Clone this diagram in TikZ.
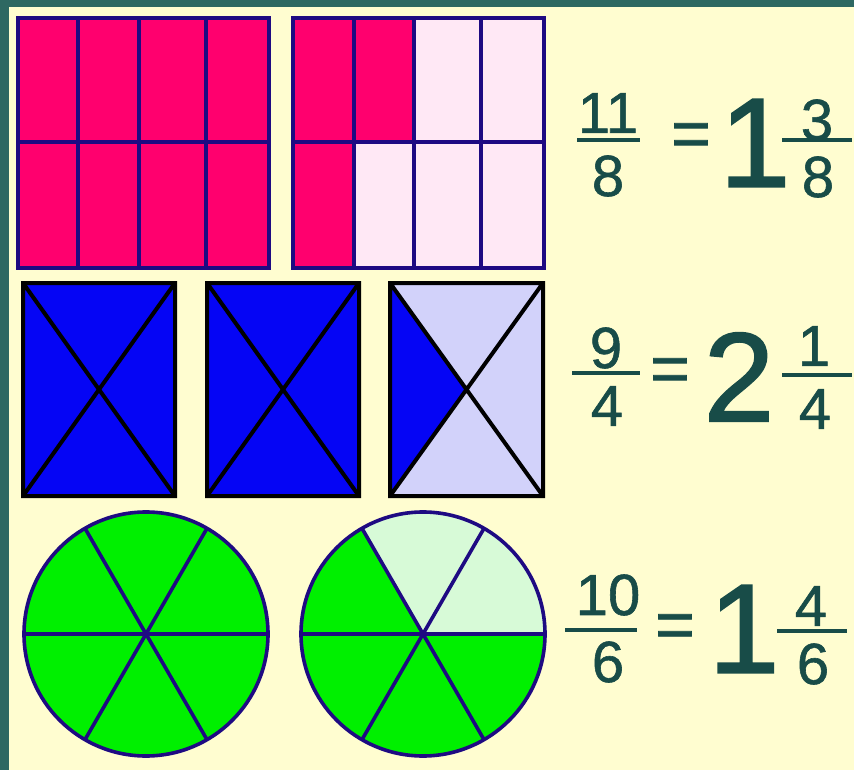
\documentclass[tikz,border=0pt]{standalone}
\usepackage{fontspec}
\setmainfont{Liberation Sans}
\newfontfamily\digitfont{Liberation Sans}[FakeBold=1]
\newfontfamily\wholefont{Liberation Sans}[FakeBold=1.4]
\definecolor{BoardTeal}{RGB}{46,104,98}
\definecolor{Paper}{RGB}{255,253,208}
\definecolor{FracText}{RGB}{24,76,72}
\definecolor{Rose}{RGB}{255,0,110}
\definecolor{RoseLight}{RGB}{255,232,245}
\definecolor{NavyEdge}{RGB}{30,10,130}
\definecolor{Ink}{RGB}{5,5,245}
\definecolor{InkLight}{RGB}{210,210,250}
\definecolor{Leaf}{RGB}{0,240,0}
\definecolor{LeafLight}{RGB}{215,250,215}

\begin{document}
\begin{tikzpicture}[x=1pt, y=-1pt]
        \tikzstyle{grid} = [draw=NavyEdge, line width=3.6pt]
        \tikzstyle{cross} = [draw=black, line width=4pt]
        \tikzstyle{spoke} = [draw=NavyEdge, line width=3.6pt]
        \tikzstyle{digit} = [text=FracText, inner sep=0pt, font=\digitfont\fontsize{58}{58}\selectfont]
        \tikzstyle{equals} = [text=FracText, inner sep=0pt, font=\digitfont\fontsize{68}{68}\selectfont]
        \tikzstyle{whole} = [text=FracText, inner sep=0pt, font=\wholefont\fontsize{127}{127}\selectfont]
        \tikzstyle{bar} = [draw=FracText, line width=4.5pt]

        \useasboundingbox (0,0) rectangle (854,770);
        \fill[Paper] (0,0) rectangle (854,770);
        \fill[BoardTeal] (0,0) rectangle (854,7);
        \fill[BoardTeal] (0,0) rectangle (9,770);

        % eleven eighths
        \fill[Rose] (18,18) rectangle (269,268);
        \fill[RoseLight] (293,18) rectangle (544,268);
        \fill[Rose] (293,18) rectangle (414,142);
        \fill[Rose] (293,142) rectangle (354,268);
        \draw[grid] (18,18) rectangle (269,268) (18,142) -- (269,142);
        \draw[grid] (293,18) rectangle (544,268) (293,142) -- (544,142);
        \foreach \x in {78,139,206} \draw[grid] (\x,18) -- (\x,268);
        \foreach \x in {354,414,481} \draw[grid] (\x,18) -- (\x,268);

        % nine quarters
        \foreach \x in {23,207} {
            \fill[Ink] (\x,283) rectangle ++(152,213);
            \draw[cross] (\x,283) rectangle ++(152,213) (\x,283) -- ++(152,213) (\x,496) -- ++(152,-213);
        }
        \fill[InkLight] (390,283) rectangle (543,496);
        \fill[Ink] (390,283) -- (466.5,389.5) -- (390,496) -- cycle;
        \draw[cross] (390,283) rectangle (543,496) (390,283) -- (543,496) (390,496) -- (543,283);

        % ten sixths
        \coordinate (c1) at (146,634);
        \coordinate (c2) at (423,634);
        \fill[Leaf] (c1) circle[radius=122];
        \fill[Leaf] (c2) -- +(0:122) arc[start angle=0, end angle=240, radius=122] -- cycle;
        \fill[LeafLight] (c2) -- +(240:122) arc[start angle=240, end angle=360, radius=122] -- cycle;
        \foreach \c in {c1,c2} {
            \draw[spoke] (\c) circle[radius=122];
            \foreach \a in {0,60,120} \draw[spoke] (\c) ++(\a:122) -- ++(\a+180:244);
        }

        % equalities
        \node[digit] (num1) at (608,113) {11};
        \node[digit] (den1) at (608,176) {8};
        \node[equals] (eq1) at (691,140) {=};
        \node[whole] (whole1) at (755,143) {1};
        \node[digit] (pnum1) at (817,120) {3};
        \node[digit] (pden1) at (818,177) {8};
        \draw[bar] (577,140) -- (640,140);
        \draw[bar] (782,140) -- (852,140);

        \node[digit] (num2) at (606,348) {9};
        \node[digit] (den2) at (607,406) {4};
        \node[equals] (eq2) at (670,375) {=};
        \node[whole] (whole2) at (739,377) {2};
        \node[digit] (pnum2) at (814,346) {1};
        \node[digit] (pden2) at (815,409) {4};
        \draw[bar] (572,373) -- (640,373);
        \draw[bar] (782,375) -- (852,375);

        \node[digit] (num3) at (608,595) {10};
        \node[digit] (den3) at (608,662) {6};
        \node[equals] (eq3) at (675,631) {=};
        \node[whole] (whole3) at (744,629) {1};
        \node[digit] (pnum3) at (811,606) {4};
        \node[digit] (pden3) at (813,664) {6};
        \draw[bar] (565,630) -- (637,630);
        \draw[bar] (777,631) -- (847,631);
    \end{tikzpicture}
\end{document}
